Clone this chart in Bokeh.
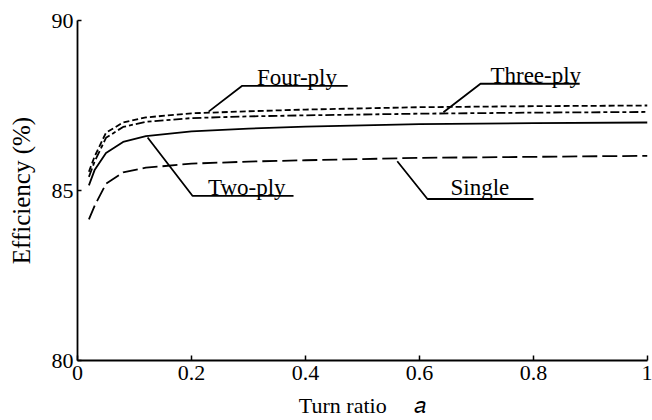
from bokeh.plotting import figure
from bokeh.models import Range1d, FixedTicker
from bokeh.core.properties import value
from bokeh.embed import file_html
from bokeh.resources import INLINE

# ---- data ----
turn_ratio = [0.02, 0.03, 0.05, 0.08, 0.12, 0.2, 0.3, 0.4, 0.6, 0.8, 1.0]
four_ply = [85.55, 86.0, 86.7, 87.0, 87.15, 87.27, 87.33, 87.38, 87.45, 87.48, 87.5]
three_ply = [85.4, 85.85, 86.55, 86.87, 87.02, 87.13, 87.18, 87.21, 87.26, 87.29, 87.31]
two_ply = [85.15, 85.6, 86.1, 86.43, 86.6, 86.74, 86.82, 86.88, 86.95, 86.98, 87.0]
single = [84.15, 84.55, 85.2, 85.53, 85.67, 85.79, 85.85, 85.89, 85.96, 85.99, 86.02]

x_ticks = [0, 0.2, 0.4, 0.6, 0.8, 1]
x_tick_labels = {0: "0", 0.2: "0.2", 0.4: "0.4", 0.6: "0.6", 0.8: "0.8", 1: "1"}
y_ticks = [80, 85, 90]

# annotation leaders (data coordinates): curve point, elbow, end of underline
labels = ["Four-ply", "Three-ply", "Two-ply", "Single"]
leader_x = [[0.230, 0.289, 0.474], [0.642, 0.707, 0.881], [0.123, 0.202, 0.379], [0.561, 0.614, 0.800]]
leader_y = [[87.32, 88.08, 88.08], [87.30, 88.14, 88.14], [86.56, 84.84, 84.84], [85.86, 84.75, 84.75]]
label_x = [0.385, 0.804, 0.297, 0.706]
label_y = [88.32, 88.38, 85.10, 85.10]

FONT = "Liberation Serif"

p = figure(width=652, height=420, output_backend="svg", toolbar_location=None,
           x_range=Range1d(0, 1), y_range=Range1d(80, 90))
p.min_border_left = 77
p.min_border_right = 5
p.min_border_top = 20
p.min_border_bottom = 57
p.outline_line_color = None
p.background_fill_color = "white"
p.border_fill_color = "white"
p.grid.visible = False

series = [
    (four_ply, "6 3"),
    (three_ply, "9 3 4 3"),
    (two_ply, "solid"),
    (single, "15 5"),
]
for ys, dash in series:
    p.line(turn_ratio, ys, line_color="black", line_width=1.8, line_dash=dash)

for lx, ly in zip(leader_x, leader_y):
    p.line(lx, ly, line_color="black", line_width=1.8)

p.text(x=label_x, y=label_y, text=labels, text_align="center", text_baseline="alphabetic",
       text_font=value(FONT), text_font_size="23px", text_color="black")

# axes
xa = p.xaxis[0]
xa.ticker = FixedTicker(ticks=x_ticks)
xa.major_label_overrides = x_tick_labels
xa.axis_label = "Turn ratio\u00a0\u00a0\u00a0\u00a0\u00a0𝑎"
xa.axis_label_text_font = FONT
xa.axis_label_text_font_size = "22px"
xa.axis_label_text_font_style = "normal"
xa.axis_label_standoff = 10
xa.major_label_text_font = FONT
xa.major_label_text_font_style = "normal"
xa.major_label_text_font_size = "22px"
xa.major_label_standoff = 5
xa.major_tick_in = 5
xa.major_tick_out = 0
xa.minor_tick_line_color = None
xa.axis_line_width = 1.8
xa.major_tick_line_width = 1.5
xa.axis_line_color = "black"
xa.major_label_text_color = "black"
xa.axis_label_text_color = "black"

ya = p.yaxis[0]
ya.ticker = FixedTicker(ticks=y_ticks)
ya.axis_label = "Efficiency (%)"
ya.axis_label_text_font = FONT
ya.axis_label_text_font_size = "25px"
ya.axis_label_text_font_style = "normal"
ya.axis_label_standoff = 14
ya.major_label_text_font = FONT
ya.major_label_text_font_style = "normal"
ya.major_label_text_font_size = "22px"
ya.major_label_standoff = 4
ya.major_tick_in = 4
ya.major_tick_out = 0
ya.minor_tick_line_color = None
ya.axis_line_width = 1.8
ya.major_tick_line_width = 1.5
ya.axis_line_color = "black"
ya.major_label_text_color = "black"
ya.axis_label_text_color = "black"

open("out.html", "w").write(file_html(p, INLINE))
